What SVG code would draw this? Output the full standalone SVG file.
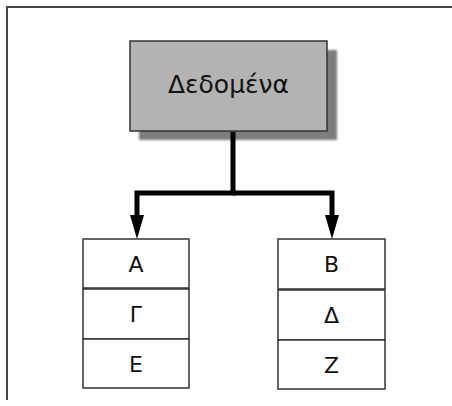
<svg xmlns="http://www.w3.org/2000/svg" width="452" height="406" viewBox="0 0 452 406">
  <style>
    .frame { fill: none; stroke: #444; stroke-width: 2; }
    .cell { fill: #ffffff; stroke: #333; stroke-width: 1.5; }
    .head { fill: #b3b3b3; stroke: #333; stroke-width: 1.5; }
    .shadow { fill: #7d7d7d; }
    .label { font-family: "DejaVu Sans", "Liberation Sans", sans-serif; fill: #111; text-anchor: middle; }
    .conn { fill: none; stroke: #000; stroke-width: 5; stroke-linejoin: miter; }
    .head-arrow { fill: #000; }
  </style>
  <defs>
    <filter id="soft" x="-5%" y="-5%" width="110%" height="120%">
      <feGaussianBlur stdDeviation="1"/>
    </filter>
  </defs>

  <!-- page frame -->
  <path class="frame" d="M7,400 V7 H452"/>

  <!-- root node -->
  <g id="node-data">
    <rect class="shadow" x="139" y="50" width="198" height="90" filter="url(#soft)"/>
    <rect class="head" x="130" y="41" width="197" height="90"/>
    <text class="label" x="228.5" y="93" font-size="25">Δεδομένα</text>
  </g>

  <!-- connectors -->
  <g id="connectors">
    <path class="conn" d="M233,132 V193 H137 V216"/>
    <path class="conn" d="M233,193 H332 V216"/>
    <path class="head-arrow" d="M130,215 L144,215 L137,239 Z"/>
    <path class="head-arrow" d="M325,215 L339,215 L332,239 Z"/>
  </g>

  <!-- left column -->
  <g id="node-a">
    <rect class="cell" x="83" y="239" width="106" height="49"/>
    <text class="label" x="136" y="272" font-size="22">Α</text>
  </g>
  <g id="node-gamma">
    <rect class="cell" x="83" y="289" width="106" height="50"/>
    <text class="label" x="136" y="322" font-size="22">Γ</text>
  </g>
  <g id="node-e">
    <rect class="cell" x="83" y="339" width="106" height="49"/>
    <text class="label" x="136" y="372" font-size="22">Ε</text>
  </g>

  <!-- right column -->
  <g id="node-b">
    <rect class="cell" x="278" y="239" width="107" height="50"/>
    <text class="label" x="331.5" y="272" font-size="22">Β</text>
  </g>
  <g id="node-delta">
    <rect class="cell" x="278" y="290" width="107" height="50"/>
    <text class="label" x="331.5" y="323" font-size="22">Δ</text>
  </g>
  <g id="node-z">
    <rect class="cell" x="278" y="340" width="107" height="49"/>
    <text class="label" x="331.5" y="373" font-size="22">Ζ</text>
  </g>
</svg>
